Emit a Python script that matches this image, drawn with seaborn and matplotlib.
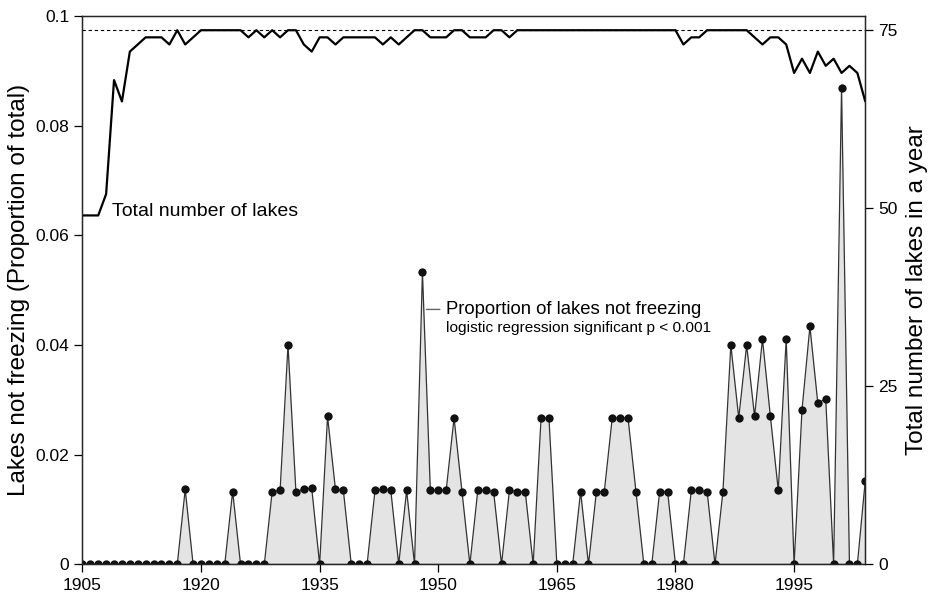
import numpy as np
import pandas as pd
import matplotlib
matplotlib.use('Agg')
import matplotlib.pyplot as plt
import seaborn as sns

# ── DATA ───────────────────────────────────────────────────────
years = list(range(1905, 2005))

# proportion of lakes not freezing
prop_not_freezing = [
    0, 0, 0, 0, 0, 0, 0, 0, 0, 0,                  # 1905-1914
    0, 0, 0, 0.0137, 0, 0, 0, 0, 0, 0.0133,        # 1915-1924
    0, 0, 0, 0, 0.0133, 0.0135, 0.040, 0.0133, 0.0137, 0.0139,  # 1925-1934
    0, 0.0270, 0.0137, 0.0135, 0, 0, 0, 0.0135, 0.0137, 0.0135,  # 1935-1944
    0, 0.0135, 0, 0.0533, 0.0135, 0.0135, 0.0135, 0.0267, 0.0133, 0,  # 1945-1954
    0.0135, 0.0135, 0.0133, 0, 0.0135, 0.0133, 0.0133, 0, 0.0267, 0.0267,  # 1955-1964
    0, 0, 0, 0.0133, 0, 0.0133, 0.0133, 0.0267, 0.0267, 0.0267,  # 1965-1974
    0.0133, 0, 0, 0.0133, 0.0133, 0, 0, 0.0135, 0.0135, 0.0133,  # 1975-1984
    0, 0.0133, 0.040, 0.0267, 0.040, 0.0270, 0.0411, 0.0270, 0.0135, 0.0411,  # 1985-1994
    0, 0.0282, 0.0434, 0.0294, 0.0302, 0, 0.0869, 0, 0, 0.0153,  # 1995-2004
]

# total number of lakes observed each year
total_lakes = [
    49, 49, 49, 52, 68, 65, 72, 73, 74, 74,        # 1905-1914
    74, 73, 75, 73, 74, 75, 75, 75, 75, 75,        # 1915-1924
    75, 74, 75, 74, 75, 74, 75, 75, 73, 72,        # 1925-1934
    74, 74, 73, 74, 74, 74, 74, 74, 73, 74,        # 1935-1944
    73, 74, 75, 75, 74, 74, 74, 75, 75, 74,        # 1945-1954
    74, 74, 75, 75, 74, 75, 75, 75, 75, 75,        # 1955-1964
    75, 75, 75, 75, 75, 75, 75, 75, 75, 75,        # 1965-1974
    75, 75, 75, 75, 75, 75, 73, 74, 74, 75,        # 1975-1984
    75, 75, 75, 75, 75, 74, 73, 74, 74, 73,        # 1985-1994
    69, 71, 69, 72, 70, 71, 69, 70, 69, 65,        # 1995-2004
]

max_lakes = 75
x_ticks = [1905, 1920, 1935, 1950, 1965, 1980, 1995]
left_ticks = [0, 0.02, 0.04, 0.06, 0.08, 0.1]
left_labels = ['0', '0.02', '0.04', '0.06', '0.08', '0.1']
right_ticks = [0, 25, 50, 75]

df = pd.DataFrame({'year': years, 'prop': prop_not_freezing, 'lakes': total_lakes})

# ── STYLE ──────────────────────────────────────────────────────
sns.set_style('ticks')
plt.rcParams['font.family'] = ['Liberation Sans', 'DejaVu Sans']
plt.rcParams['axes.linewidth'] = 0.9
plt.rcParams['text.color'] = 'black'
plt.rcParams['axes.labelcolor'] = 'black'
plt.rcParams['xtick.color'] = 'black'
plt.rcParams['ytick.color'] = 'black'

fig = plt.figure(figsize=(9.29, 5.96), dpi=100)
ax = fig.add_axes([0.0887, 0.0529, 0.8427, 0.9203])

# ── PROPORTION (left axis) ─────────────────────────────────────
ax.fill_between(df['year'], 0, df['prop'], color='#e4e4e4', lw=0, zorder=1)
sns.lineplot(data=df, x='year', y='prop', ax=ax, color='#333333', lw=0.9,
             marker='o', markersize=6, markeredgewidth=0,
             markerfacecolor='#111111', zorder=3)
ax.axhline(0, color='#555555', lw=0.9, zorder=2)

ax.set_xlim(1905, 2004)
ax.set_ylim(0, 0.1)
ax.set_xticks(x_ticks)
ax.set_yticks(left_ticks)
ax.set_yticklabels(left_labels)
ax.set_xlabel('')
ax.set_ylabel('Lakes not freezing (Proportion of total)', fontsize=17.5)
ax.yaxis.set_label_coords(-0.067, 0.5)
ax.tick_params(axis='both', labelsize=12.5, direction='out', length=6,
               width=0.9, color='black', labelcolor='black')
for s in ax.spines.values():
    s.set_color('black')
    s.set_visible(True)

# ── TOTAL LAKES (right axis) ───────────────────────────────────
ax2 = ax.twinx()
sns.lineplot(data=df, x='year', y='lakes', ax=ax2, color='black', lw=1.6)
ax2.axhline(max_lakes, color='black', lw=0.8, ls=(0, (3, 2.5)))
ax2.set_ylim(0, 77)
ax2.set_yticks(right_ticks)
ax2.set_ylabel('Total number of lakes in a year', fontsize=17.5)
ax2.yaxis.set_label_coords(1.052, 0.5)
ax2.tick_params(axis='y', labelsize=12.5, direction='out', length=6,
                width=0.9, color='black', labelcolor='black')
ax2.set_xlim(1905, 2004)

# ── ANNOTATIONS ────────────────────────────────────────────────
ax2.text(1908.7, 49.5, 'Total number of lakes', fontsize=14,
         ha='left', va='center')
ax.text(1951.0, 0.0465, 'Proportion of lakes not freezing', fontsize=13.3,
        ha='left', va='center')
ax.text(1951.0, 0.0432, 'logistic regression significant p < 0.001',
        fontsize=11.1, ha='left', va='center')
ax.annotate('', xy=(1948.5, 0.0465), xytext=(1950.2, 0.0465),
            arrowprops=dict(arrowstyle='-', color='#666666', lw=1,
                            shrinkA=0, shrinkB=0))

fig.savefig('out.png', dpi=100)
